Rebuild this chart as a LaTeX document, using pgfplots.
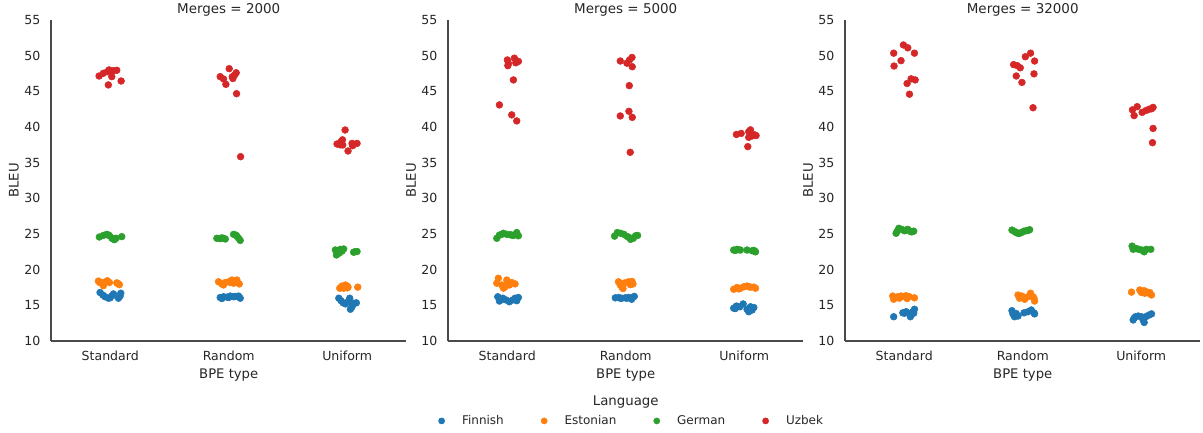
\documentclass[border=0pt]{standalone}
\usepackage{pgfplots}
\pgfplotsset{compat=1.18}
\usepackage{fontspec}
\setmainfont{DejaVu Sans}
\definecolor{cFi}{HTML}{1F77B4}
\definecolor{cEs}{HTML}{FF7F0E}
\definecolor{cDe}{HTML}{2CA02C}
\definecolor{cUz}{HTML}{D62728}
\definecolor{txt}{HTML}{262626}
\definecolor{spine}{HTML}{4A4A4A}
\pgfplotsset{
  panel/.style={
    scale only axis, width=266.6pt, height=240.75pt,
    xmin=-0.5, xmax=2.5, ymin=10, ymax=55,
    axis lines=left, axis line style={-, draw=spine, line width=1pt},
    xtick={0,1,2}, xticklabels={Standard,Random,Uniform},
    ytick={10,15,20,25,30,35,40,45,50,55},
    major tick length=0pt,
    /pgf/number format/assume math mode=true,
    tick label style={font=\fontsize{9.4}{11}\selectfont, text=txt},
    xticklabel style={yshift=-4.2pt},
    yticklabel style={xshift=-4.5pt},
    label style={font=\fontsize{9.9}{12}\selectfont, text=txt},
    title style={font=\fontsize{10.1}{12}\selectfont, text=txt, at={(axis description cs:0.5,1.0062)}, anchor=center},
    xlabel={BPE type}, ylabel={BLEU},
    xlabel style={at={(axis description cs:0.5,-0.106)}, anchor=center},
    ylabel style={at={(axis description cs:-0.104,0.5)}, anchor=center},
    clip=false,
  },
  dots/.style={only marks, mark=*, mark size=2.55pt, color=#1, mark options={draw=none, fill=#1}},
}
\begin{document}
\begin{tikzpicture}
\path[use as bounding box] (-38.25pt,-68.25pt) rectangle (864pt,255.75pt);
% ---------------- Panel 1 ----------------
\begin{axis}[panel, at={(0pt,0pt)}, title={Merges = 2000}]
\addplot[dots=cFi] coordinates {
(-0.086,16.8)(-0.063,16.45)(-0.044,16.2)(-0.016,16.0)(0.013,16.3)(0.027,16.6)(0.069,16.0)(0.083,16.3)(0.089,16.7)(-0.001,16.05)
(0.928,16.1)(0.956,16.2)(0.985,16.15)(1.013,16.3)(1.041,16.2)(1.083,16.3)(1.097,16.0)(0.942,15.95)(1.06,16.25)(1.0,16.1)
(1.929,16.0)(1.948,15.65)(1.965,15.35)(1.985,15.2)(2.007,15.5)(2.021,16.0)(2.041,14.8)(2.054,15.3)(2.077,15.35)(2.027,14.45)};
\addplot[dots=cEs] coordinates {
(-0.1,18.4)(-0.072,18.2)(-0.058,17.75)(-0.024,18.45)(-0.007,18.2)(0.055,18.15)(0.077,17.9)(-0.09,18.2)(0.065,18.05)(-0.04,18.3)
(0.914,18.3)(0.942,18.0)(0.971,18.2)(0.999,18.3)(1.027,18.55)(1.041,18.1)(1.069,18.55)(1.089,18.0)(1.013,18.2)(0.956,17.85)
(1.937,17.4)(1.956,17.7)(1.985,17.85)(2.007,17.55)(2.089,17.55)(1.97,17.4)(1.999,17.7)(1.945,17.5)(1.99,17.6)(2.0,17.45)};
\addplot[dots=cDe] coordinates {
(-0.092,24.58)(-0.058,24.8)(-0.03,24.95)(-0.007,24.77)(0.013,24.44)(0.035,24.2)(0.049,24.4)(0.097,24.63)(-0.015,24.85)(0.02,24.35)
(0.9,24.4)(0.928,24.35)(0.956,24.4)(0.971,24.3)(1.041,24.95)(1.069,24.7)(1.083,24.4)(1.097,24.1)(0.94,24.45)(1.06,24.85)
(1.9,22.76)(1.909,22.06)(1.92,22.4)(1.942,22.85)(1.97,22.9)(1.956,22.6)(2.054,22.45)(2.083,22.55)(1.93,22.3)(2.065,22.5)};
\addplot[dots=cUz] coordinates {
(-0.094,47.15)(-0.058,47.53)(-0.024,47.76)(0.007,47.62)(0.027,47.9)(0.055,47.95)(0.013,47.06)(-0.016,45.9)(0.092,46.45)(-0.01,48.0)
(1.004,48.18)(0.928,47.06)(0.956,46.73)(0.976,45.98)(1.035,46.8)(1.049,47.27)(1.063,47.6)(1.066,44.67)(1.1,35.84)(1.03,47.05)
(1.982,39.58)(1.914,37.62)(1.948,37.95)(1.962,37.48)(2.007,36.64)(2.041,37.7)(2.046,37.38)(2.083,37.7)(1.96,38.2)(1.94,37.5)};
\end{axis}
% ---------------- Panel 2 ----------------
\begin{axis}[panel, at={(297.75pt,0pt)}, title={Merges = 5000},
  legend columns=4,
  legend style={draw=none, fill=none, at={(axis description cs:0.518,-0.249)}, anchor=center,
    font=\fontsize{9}{11}\selectfont, text=txt,
    /tikz/every odd column/.append style={column sep=11pt},
    /tikz/every even column/.append style={column sep=26pt}},
  legend image code/.code={\draw[#1, mark size=2.3pt] plot coordinates {(0pt,0pt)};},
]
\addplot[dots=cFi] coordinates {
(-0.08,16.2)(-0.066,15.6)(-0.038,16.0)(-0.01,15.75)(0.018,15.5)(0.046,15.75)(0.066,16.0)(0.094,16.1)(0.08,15.65)(-0.046,15.8)
(0.912,16.05)(0.939,16.1)(0.968,16.0)(0.996,16.05)(1.024,16.1)(1.053,16.1)(1.072,16.25)(1.05,15.85)(0.954,16.0)(1.01,16.0)
(1.911,14.6)(1.934,14.9)(1.963,14.8)(1.991,15.2)(2.024,14.45)(2.038,14.1)(2.053,14.8)(2.081,14.7)(2.067,14.35)(1.925,14.55)};
\addlegendentry{Finnish}
\addplot[dots=cEs] coordinates {
(-0.075,18.8)(-0.088,18.1)(-0.046,17.85)(-0.032,17.4)(-0.004,18.55)(0.011,18.1)(-0.018,17.6)(0.038,18.2)(0.066,18.0)(0.018,17.85)
(0.939,18.3)(0.954,17.85)(0.968,17.55)(0.982,18.1)(1.005,18.2)(1.024,18.3)(1.053,18.35)(1.061,18.0)(0.977,17.35)(1.038,17.9)
(1.911,17.25)(1.939,17.5)(1.968,17.4)(1.996,17.6)(2.024,17.7)(2.053,17.55)(2.081,17.55)(2.095,17.4)(1.955,17.3)(2.04,17.6)};
\addlegendentry{Estonian}
\addplot[dots=cDe] coordinates {
(-0.088,24.4)(-0.066,24.85)(-0.032,25.1)(-0.004,24.95)(0.024,24.9)(0.052,24.8)(0.08,25.2)(0.094,24.75)(-0.046,24.95)(0.038,24.85)
(0.906,24.7)(0.929,25.2)(0.957,25.1)(0.985,24.95)(1.013,24.65)(1.041,24.25)(1.064,24.4)(1.083,24.75)(1.1,24.8)(1.03,24.5)
(1.911,22.75)(1.939,22.85)(1.968,22.75)(2.024,22.75)(2.067,22.65)(2.095,22.5)(1.925,22.7)(2.08,22.7)(1.95,22.8)(2.09,22.6)};
\addlegendentry{German}
\addplot[dots=cUz] coordinates {
(0.001,49.4)(0.01,48.9)(0.005,48.6)(0.06,49.65)(0.072,49.0)(0.094,49.2)(0.052,46.6)(-0.066,43.1)(0.038,41.7)(0.08,40.85)
(0.954,49.25)(1.01,48.95)(1.032,49.4)(1.053,49.75)(1.055,48.45)(1.03,45.8)(1.027,42.2)(0.954,41.55)(1.055,41.35)(1.038,36.45)
(1.934,38.95)(1.974,39.1)(2.038,39.35)(2.053,39.0)(2.067,38.75)(2.087,38.9)(2.1,38.8)(2.038,38.55)(2.03,37.25)(2.053,39.6)};
\addlegendentry{Uzbek}
\node[font=\fontsize{10}{12}\selectfont, text=txt, anchor=center] at (axis description cs:0.5,-0.19) {Language};
\end{axis}
% ---------------- Panel 3 ----------------
\begin{axis}[panel, at={(595.5pt,0pt)}, title={Merges = 32000}]
\addplot[dots=cFi] coordinates {
(-0.089,13.4)(-0.012,13.95)(0.016,14.1)(0.035,13.9)(0.058,13.65)(0.072,14.1)(0.086,14.45)(0.052,13.4)(0.001,13.9)(0.08,13.9)
(0.909,14.25)(0.917,13.8)(0.931,13.4)(0.96,13.5)(1.011,13.95)(1.044,14.1)(1.072,14.35)(1.095,13.95)(1.1,13.8)(0.945,13.85)
(1.932,12.95)(1.951,13.4)(1.974,13.5)(2.002,13.4)(2.025,12.6)(2.044,13.45)(2.067,13.65)(2.087,13.8)(2.016,12.95)(1.94,13.2)};
\addplot[dots=cEs] coordinates {
(-0.097,16.3)(-0.089,15.85)(-0.055,16.2)(-0.027,16.3)(0.001,16.2)(0.024,15.95)(0.044,16.2)(0.086,16.05)(-0.041,16.0)(0.016,16.35)
(0.96,16.45)(0.973,16.0)(0.993,16.3)(1.016,15.85)(1.044,16.2)(1.066,16.7)(1.087,16.2)(1.1,15.6)(1.002,16.05)(1.095,16.0)
(1.918,16.85)(1.988,17.15)(2.002,16.8)(2.025,17.05)(2.044,16.9)(2.064,16.7)(2.087,16.45)(2.03,16.7)(1.996,17.0)(2.072,16.8)};
\addplot[dots=cDe] coordinates {
(-0.06,25.35)(-0.046,25.8)(-0.021,25.65)(0.001,25.45)(0.03,25.65)(0.052,25.35)(0.08,25.4)(-0.069,25.1)(0.016,25.55)(0.064,25.3)
(0.909,25.55)(0.931,25.35)(0.96,25.1)(0.988,25.2)(1.011,25.4)(1.03,25.45)(1.058,25.6)(0.945,25.2)(0.973,25.1)(1.044,25.5)
(1.923,23.3)(1.932,22.85)(1.96,22.95)(1.979,22.85)(2.002,22.75)(2.025,22.5)(2.044,22.85)(2.081,22.85)(1.946,23.0)(2.016,22.7)};
\addplot[dots=cUz] coordinates {
(-0.089,50.35)(-0.007,51.5)(0.03,51.1)(0.086,50.35)(-0.027,49.3)(-0.086,48.55)(0.058,46.75)(0.092,46.6)(0.024,46.1)(0.044,44.6)
(0.923,48.75)(0.954,48.6)(0.979,48.3)(1.022,49.85)(1.066,50.35)(1.1,49.25)(0.945,47.15)(0.993,46.25)(1.095,47.45)(1.087,42.7)
(1.926,42.4)(1.94,41.6)(1.966,42.85)(2.008,42.05)(2.039,42.3)(2.067,42.5)(2.087,42.55)(2.1,42.75)(2.1,39.8)(2.095,37.8)};
\end{axis}
\end{tikzpicture}
\end{document}
